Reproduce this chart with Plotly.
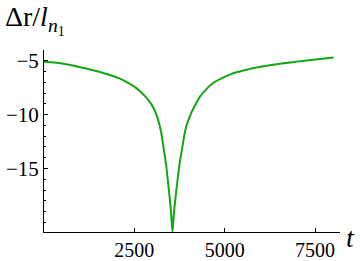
import plotly.graph_objects as go

t_vals = [0, 500, 1000, 1500, 2100, 2300, 2500, 2650, 2800, 2900, 3000, 3100, 3200, 3250, 3313,
          3380, 3433, 3470, 3500, 3530, 3554,
          3580, 3613, 3646, 3687, 3745, 3819, 3888, 3944, 4010, 4080, 4218, 4320, 4450,
          4560, 4678, 4900, 5140, 5350, 5602, 5800, 6000, 6250, 6524, 6750, 7000, 7200, 7446, 7700, 8018]
dr_vals = [-5.1, -5.26, -5.6, -6.0, -6.66, -7.0, -7.4, -7.8, -8.3, -8.7, -9.2, -9.9, -11.0, -11.8, -13.2,
           -14.7, -16.3, -17.5, -18.5, -19.8, -20.9,
           -19.8, -18.5, -17.5, -16.3, -14.7, -13.2, -11.8, -11.0, -10.4, -9.8, -8.9, -8.3, -7.8,
           -7.4, -7.06, -6.65, -6.29, -6.05, -5.83, -5.68, -5.55, -5.42, -5.28, -5.18, -5.08, -5.0, -4.91, -4.82, -4.70]

x_ticks = [2500, 5000, 7500]
y_ticks = [-5, -10, -15]

XR = [0, 8190]
YR = [-20.9, -4.0]

fig = go.Figure()
fig.add_trace(go.Scatter(x=t_vals, y=dr_vals, mode="lines",
                         line=dict(color="#12a612", width=2, shape="spline", smoothing=0.4),
                         hoverinfo="skip"))

font = '"Liberation Serif", "Times New Roman", serif'
fig.update_layout(
    template="none",
    width=360, height=261,
    margin=dict(l=44, r=20, t=50, b=29, pad=0),
    paper_bgcolor="white", plot_bgcolor="white",
    showlegend=False,
    font=dict(family=font, color="black", size=20),
    xaxis=dict(range=XR, showgrid=False, zeroline=False, showline=True, automargin=False,
               linecolor="black", linewidth=1, ticks="inside", ticklen=4,
               tickcolor="black", tickvals=x_ticks, ticktext=[str(v) for v in x_ticks],
               tickfont=dict(family=font, size=20)),
    yaxis=dict(range=YR, showgrid=False, zeroline=False, showline=True, automargin=False,
               linecolor="black", linewidth=1, ticks="inside", ticklen=4,
               tickcolor="black", tickvals=y_ticks,
               ticktext=["\u2212" + str(abs(v)) for v in y_ticks],
               tickfont=dict(family=font, size=21),
               minor=dict(ticks="inside", ticklen=2, tickcolor="black", dtick=1, showgrid=False)),
)

# small axis extensions past origin (Mathematica style)
fig.add_shape(type="line", xref="x", yref="y", xsizemode="pixel", xanchor=XR[0],
              x0=-7, x1=0, y0=YR[0], y1=YR[0], line=dict(color="black", width=1))
fig.add_shape(type="line", xref="x", yref="y", ysizemode="pixel", yanchor=YR[0],
              x0=XR[0], x1=XR[0], y0=-6, y1=0, line=dict(color="black", width=1))

fig.add_annotation(xref="paper", yref="paper", x=-0.139, y=1.165, xanchor="left", yanchor="middle",
                   text="\u0394r/<i>l</i><sub><i>n</i><sub>1</sub></sub>", showarrow=False,
                   font=dict(family=font, size=28, color="black"))
fig.add_annotation(xref="paper", yref="paper", x=1.014, y=-0.03, xanchor="left", yanchor="middle",
                   text="<i>t</i>", showarrow=False,
                   font=dict(family=font, size=28, color="black"))

fig.write_html("out.html", config={"displayModeBar": False},
               post_script="document.body.style.margin='0';")
